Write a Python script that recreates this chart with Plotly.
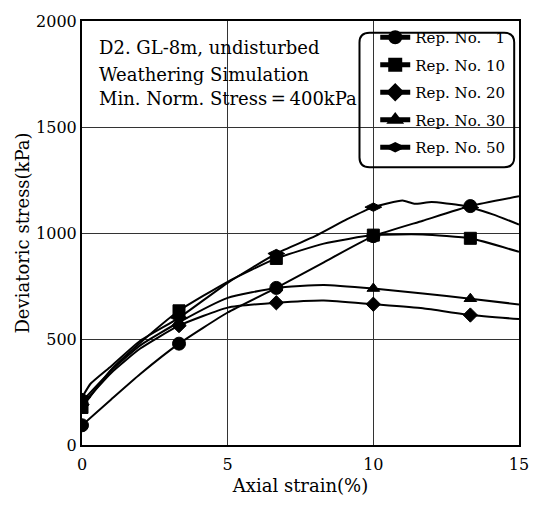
import plotly.graph_objects as go

# ---- data ----
strain_pts = [0, 1, 2, 3.33, 5, 6.67, 8.3, 10, 11.7, 13.33, 15]
measured_strain = [0, 3.33, 6.67, 10, 13.33]

rep1_y = [93, 215, 335, 478, 625, 741, 862, 985, 1058, 1127, 1173]
rep10_y = [177, 355, 482, 633, 770, 880, 950, 990, 993, 975, 911]
rep20_y = [190, 340, 455, 563, 648, 671, 682, 664, 645, 613, 594]
rep30_y = [205, 350, 470, 579, 694, 741, 755, 738, 715, 690, 663]

rep50_x = [0, 0.3, 1, 2, 3.33, 5, 6.67, 8, 9.1, 10, 11, 11.4, 12, 13, 13.33, 14.1, 15]
rep50_y = [224, 290, 372, 492, 600, 765, 903, 985, 1065, 1122, 1153, 1138, 1146, 1131, 1120, 1088, 1040]

series_names = ["Rep. No. \u20071", "Rep. No. 10", "Rep. No. 20", "Rep. No. 30", "Rep. No. 50"]
series_x = [strain_pts, strain_pts, strain_pts, strain_pts, rep50_x]
series_y = [rep1_y, rep10_y, rep20_y, rep30_y, rep50_y]
symbols = ["circle", "square", "diamond", "triangle-up", "diamond-wide"]
msizes = [13, 12, 11, 11, 12]

x_ticks = [0, 5, 10, 15]
y_ticks = [0, 500, 1000, 1500, 2000]

title_lines = ["D2. GL-8m, undisturbed", "Weathering Simulation",
               "Min. Norm. Stress\u2009=\u2009400kPa"]

FONT = "DejaVu Serif"

fig = go.Figure()
for i, (name, xs, ys, sym, ms) in enumerate(zip(series_names, series_x, series_y, symbols, msizes)):
    sizes = [ms if x in measured_strain else 0 for x in xs]
    fig.add_trace(go.Scatter(
        x=xs, y=ys, name=name, mode="lines+markers",
        line=dict(color="black", width=2, shape="spline", smoothing=0.5),
        marker=dict(symbol=sym, size=sizes, color="black", opacity=1,
                    line=dict(width=1, color="black")),
        legendgroup=f"g{i}",
    ))

fig.update_layout(
    width=541, height=505,
    margin=dict(l=82, r=18, t=13, b=60),
    paper_bgcolor="white", plot_bgcolor="white",
    font=dict(family=FONT, color="black", size=15),
    showlegend=True,
    legend=dict(
        x=0.671, y=1.0, xanchor="left", yanchor="top",
        bgcolor="rgba(0,0,0,0)", borderwidth=0,
        font=dict(family=FONT, size=15),
        traceorder="grouped", tracegroupgap=5,
        itemsizing="constant",
    ),
    xaxis=dict(
        range=[0, 15], tickvals=x_ticks, ticks="", showgrid=True,
        gridcolor="#333", gridwidth=1, zeroline=False,
        showline=True, mirror=True, linecolor="black", linewidth=2,
        tickfont=dict(family=FONT, size=16), ticklabelstandoff=4,
        title=dict(text="Axial strain(%)", font=dict(family=FONT, size=18), standoff=6),
    ),
    yaxis=dict(
        range=[0, 2000], tickvals=y_ticks, ticks="", showgrid=True,
        gridcolor="#333", gridwidth=1, zeroline=False,
        showline=True, mirror=True, linecolor="black", linewidth=2,
        tickfont=dict(family=FONT, size=16), ticklabelstandoff=0,
        title=dict(text="Deviatoric stress(kPa)", font=dict(family=FONT, size=18), standoff=2),
    ),
)

# rounded legend box
x0, x1, y0, y1 = 0.635, 0.989, 0.655, 0.972
rx, ry = 0.023, 0.023
path = (f"M {x0+rx},{y1} L {x1-rx},{y1} Q {x1},{y1} {x1},{y1-ry} "
        f"L {x1},{y0+ry} Q {x1},{y0} {x1-rx},{y0} L {x0+rx},{y0} "
        f"Q {x0},{y0} {x0},{y0+ry} L {x0},{y1-ry} Q {x0},{y1} {x0+rx},{y1} Z")
fig.add_shape(type="path", path=path, xref="paper", yref="paper",
              line=dict(color="black", width=2))

for txt, yp in zip(title_lines, [0.937, 0.875, 0.817]):
    fig.add_annotation(text=txt, x=0.034, y=yp, xref="paper", yref="paper",
                       xanchor="left", yanchor="middle", showarrow=False,
                       font=dict(family=FONT, size=18, color="black"))

fig.write_html("out.html")
